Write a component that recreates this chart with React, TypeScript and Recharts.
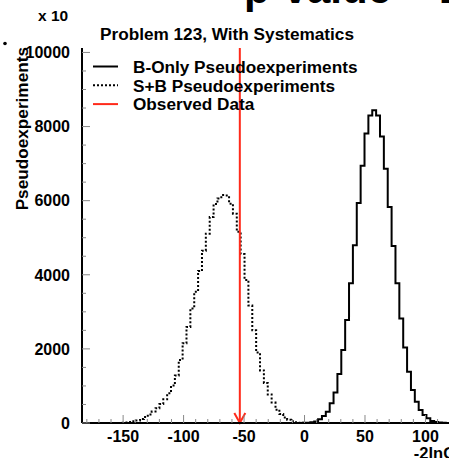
import { LineChart, Line, XAxis, YAxis, ReferenceLine, Legend } from 'recharts'

const FONT = "'Liberation Sans', Arial, Helvetica, sans-serif"
const RED = '#ff2a1a'

// histogram binning: 100 bins of 3.2 starting at -184
const BIN_LOW = -184
const BIN_WIDTH = 3.2
const N_BINS = 100

// B-only pseudoexperiments, bins 55..94
const B_ONLY_FIRST_BIN = 55
const B_ONLY = [
  1, 2, 4, 8, 18, 40, 100, 190, 305, 530,
  820, 1320, 1970, 2780, 3770, 4800, 5940, 6940, 7810, 8300,
  8440, 8300, 7730, 6860, 5830, 4780, 3770, 2820, 2040, 1380,
  890, 575, 350, 215, 125, 55, 25, 12, 5, 2,
]

// S+B pseudoexperiments, bins 10..57
const SB_FIRST_BIN = 10
const SB = [
  8, 15, 25, 45, 70, 110, 160, 230, 310, 400,
  510, 640, 800, 1010, 1280, 1700, 2150, 2590, 3090, 3540,
  4100, 4650, 5110, 5560, 5910, 6060, 6150, 6140, 5920, 5650,
  5160, 4560, 3860, 3170, 2500, 1900, 1420, 1080, 770, 550,
  360, 240, 150, 90, 45, 20, 8, 3,
]

const OBSERVED = -53.5

const X_TICKS = [
  -180, -170, -160, -150, -140, -130, -120, -110, -100, -90, -80, -70, -60, -50, -40, -30,
  -20, -10, 0, 10, 20, 30, 40, 50, 60, 70, 80, 90, 100, 110, 120, 130,
]
const X_LABELS = [-150, -100, -50, 0, 50, 100]
const Y_TICKS = [
  0, 500, 1000, 1500, 2000, 2500, 3000, 3500, 4000, 4500, 5000,
  5500, 6000, 6500, 7000, 7500, 8000, 8500, 9000, 9500, 10000,
]
const Y_LABELS = [0, 2000, 4000, 6000, 8000, 10000]

const DASH: Record<string, string | undefined> = { b: undefined, sb: '2 2' }

const data = Array.from({ length: N_BINS + 1 }, (_, k) => ({
  x: +(BIN_LOW + k * BIN_WIDTH).toFixed(1),
  b: B_ONLY[k - B_ONLY_FIRST_BIN] ?? 0,
  sb: SB[k - SB_FIRST_BIN] ?? 0,
}))

const txt = { fontFamily: FONT, fontWeight: 700, fill: '#000' } as const

function XTick({ x, y, payload, dir, labels }: any) {
  const v = payload.value
  const major = v % 50 === 0
  const len = major ? 8 : 4
  return (
    <g>
      <line x1={x} x2={x} y1={y} y2={y - dir * len} stroke="#888" strokeWidth={1} />
      {labels && X_LABELS.includes(v) && (
        <text x={x} y={y + 18.5} textAnchor="middle" fontSize={16} {...txt}>{v}</text>
      )}
    </g>
  )
}

function YTick({ x, y, payload }: any) {
  const v = payload.value
  const major = Y_LABELS.includes(v)
  return (
    <g>
      <line x1={x} x2={x + (major ? 8 : 4)} y1={y} y2={y} stroke="#888" strokeWidth={1} />
      {major && (
        <text x={x - 12} y={y + 5.8} textAnchor="end" fontSize={16} {...txt}>{v}</text>
      )}
    </g>
  )
}

function YTitle({ viewBox }: any) {
  const x = viewBox.x + 28
  const y = viewBox.y - 1
  return (
    <text x={x} y={y} transform={`rotate(-90 ${x} ${y})`} textAnchor="end" fontSize={17.2} {...txt}>
      Pseudoexperiments
    </text>
  )
}

function XTitle({ viewBox }: any) {
  return (
    <text x={viewBox.x + viewBox.width - 13} y={viewBox.y + 36} textAnchor="end" fontSize={16.5} {...txt}>
      -2lnQ
    </text>
  )
}

function Arrowhead({ viewBox }: any) {
  const { x, y, height } = viewBox
  const bottom = y + height
  return (
    <path d={`M${x - 5.5},${bottom - 10} L${x},${bottom} L${x + 5.5},${bottom - 10}`}
      fill="none" stroke={RED} strokeWidth={2} />
  )
}

function HistLegend({ payload }: any) {
  const rows = [
    ...(payload ?? []).map((p: any) => ({ label: p.value, color: '#000', dash: DASH[p.dataKey] })),
    { label: 'Observed Data', color: RED, dash: undefined },
  ]
  return (
    <svg width={400} height={60} style={{ display: 'block', overflow: 'visible' }}>
      {rows.map((r, i) => (
        <g key={r.label}>
          <line x1={93} x2={118} y1={9.5 + i * 18.8} y2={9.5 + i * 18.8}
            stroke={r.color} strokeWidth={2} strokeDasharray={r.dash} />
          <text x={133} y={15.7 + i * 18.8} fontSize={17.2} {...txt}>{r.label}</text>
        </g>
      ))}
    </svg>
  )
}

export default function App() {
  return (
    <div style={{ position: 'fixed', left: 0, top: 0, width: 449, height: 458, overflow: 'hidden', background: '#fff' }}>
      <LineChart width={500} height={458} data={data}
        margin={{ top: 48, right: 31, bottom: 0, left: 0 }}>
        <XAxis dataKey="x" type="number" domain={[-184, 136]} ticks={X_TICKS} interval={0}
          height={35} tickSize={0} tickMargin={0} tickLine={false}
          axisLine={{ stroke: '#000', strokeWidth: 2 }}
          tick={<XTick dir={1} labels />} label={<XTitle />} />
        <XAxis xAxisId="top" orientation="top" dataKey="x" type="number" domain={[-184, 136]}
          ticks={X_TICKS} interval={0} height={0} tickSize={0} tickMargin={0} tickLine={false}
          axisLine={{ stroke: '#222', strokeWidth: 1.5 }}
          tick={<XTick dir={-1} labels={false} />} />
        <YAxis type="number" domain={[0, 10120]} ticks={Y_TICKS} interval={0} width={82}
          tickSize={0} tickMargin={0} tickLine={false}
          axisLine={{ stroke: '#000', strokeWidth: 2 }}
          tick={<YTick />} label={<YTitle />} />
        <Line dataKey="b" name="B-Only Pseudoexperiments" type="stepAfter" stroke="#000"
          strokeWidth={2} dot={false} activeDot={false} isAnimationActive={false} />
        <Line dataKey="sb" name="S+B Pseudoexperiments" type="stepAfter" stroke="#000"
          strokeWidth={2} strokeDasharray="2 2" dot={false} activeDot={false} isAnimationActive={false} />
        <ReferenceLine x={OBSERVED} stroke={RED} strokeWidth={2} label={<Arrowhead />} />
        <Legend layout="vertical" align="center" verticalAlign="middle" content={<HistLegend />}
          wrapperStyle={{ left: 0, top: 57, width: 400, height: 60 }} />
      </LineChart>
      <svg width={449} height={458} style={{ position: 'absolute', left: 0, top: 0, pointerEvents: 'none' }}>
        <text x={244} y={3} fontSize={42} {...txt}>p-value = 1</text>
        <text x={38} y={21} fontSize={15.5} {...txt}>x 10</text>
        <text x={100} y={40} fontSize={17.2} {...txt}>Problem 123, With Systematics</text>
        <circle cx={5} cy={43.5} r={1.8} fill="#000" />
      </svg>
    </div>
  )
}
